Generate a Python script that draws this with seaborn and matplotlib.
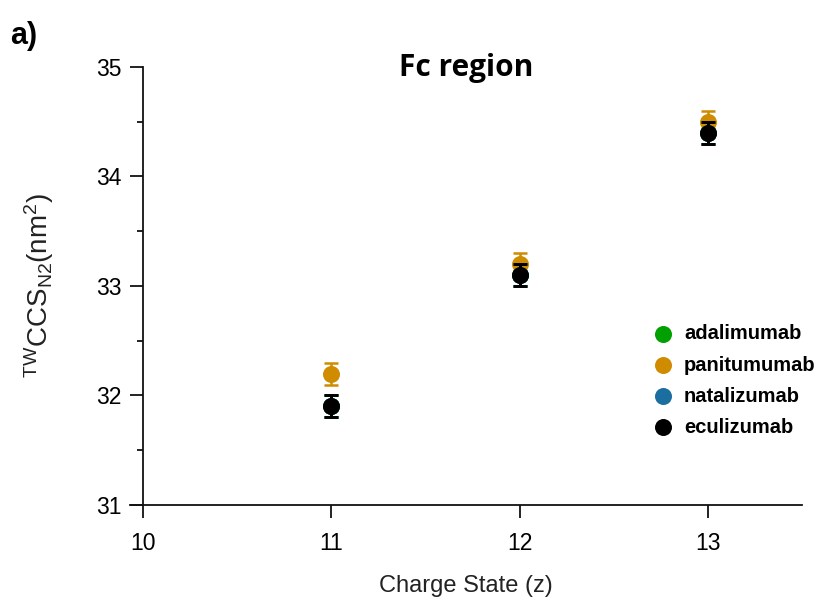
import seaborn as sns
import matplotlib.pyplot as plt
import pandas as pd

# datos (Fc region)
charge = [11, 12, 13]
antibodies = ['adalimumab', 'panitumumab', 'natalizumab', 'eculizumab']
adalimumab = [31.9, 33.1, 34.4]
panitumumab = [32.2, 33.2, 34.5]
natalizumab = [31.9, 33.1, 34.4]
eculizumab = [31.9, 33.1, 34.4]
err = [0.1, 0.1, 0.1]
colors = ['#00A000', '#D08C00', '#1A6FA0', '#000000']

values = [adalimumab, panitumumab, natalizumab, eculizumab]
df = pd.DataFrame({
    'z': charge * len(antibodies),
    'ccs': [v for serie in values for v in serie],
    'mAb': [a for a in antibodies for _ in charge],
})

sns.set_style('ticks')
plt.rcParams['font.family'] = ['Liberation Sans', 'DejaVu Sans']
plt.rcParams['mathtext.default'] = 'regular'
plt.rcParams['text.color'] = 'black'

fig = plt.figure(figsize=(8.32, 6.03), dpi=100)
ax = fig.add_axes([0.156, 0.1625, 0.808, 0.7265])

for i, (name, serie, c) in enumerate(zip(antibodies, values, colors)):
    lw = 2.1 if name == 'eculizumab' else 1.8
    ax.errorbar(charge, serie, yerr=err, fmt='none', ecolor=c,
                elinewidth=lw, capsize=5, capthick=lw, zorder=2 + i)
    sns.scatterplot(x=charge, y=serie, color=c, s=150, edgecolor=c,
                    linewidth=0, ax=ax, label=name, zorder=2.5 + i)

ax.set_xlim(9.93, 13.5)
ax.set_ylim(31, 35)
ax.spines['left'].set_position(('data', 10))
ax.spines['left'].set_bounds(31, 35)
sns.despine(ax=ax)
ax.set_xticks([10, 11, 12, 13])
ax.set_yticks([31, 32, 33, 34, 35])
ax.set_yticks([31.5, 32.5, 33.5, 34.5], minor=True)
ax.tick_params(axis='both', which='major', direction='out', length=9.5,
               width=1.3, labelsize=16.5, colors='#111111', labelcolor='black')
ax.tick_params(axis='y', which='minor', direction='out', length=4.5,
               width=1.3, colors='#111111')
ax.tick_params(axis='x', which='major', pad=10)
ax.tick_params(axis='y', which='major', pad=6)
for s in ['left', 'bottom']:
    ax.spines[s].set_linewidth(1.3)
    ax.spines[s].set_color('#111111')

ax.set_xlabel('Charge State (z)', fontsize=17, labelpad=14, color='#222222')
ax.set_ylabel(r'$^{TW}CCS_{N2}(nm^2)$', fontsize=20, labelpad=29, color='#222222')
ax.set_title('Fc region', fontsize=21.5, fontweight='bold', color='black',
             family=['Open Sans', 'DejaVu Sans'], y=0.96)

leg = ax.legend(loc='center left', bbox_to_anchor=(0.736, 0.284), frameon=False,
                prop={'weight': 'bold', 'size': 14.5}, handletextpad=0.05,
                labelspacing=0.6, markerscale=1.0)

fig.text(0.012, 0.927, 'a)', fontsize=22, fontweight='bold')

plt.savefig('out.png', dpi=100)
plt.close()
